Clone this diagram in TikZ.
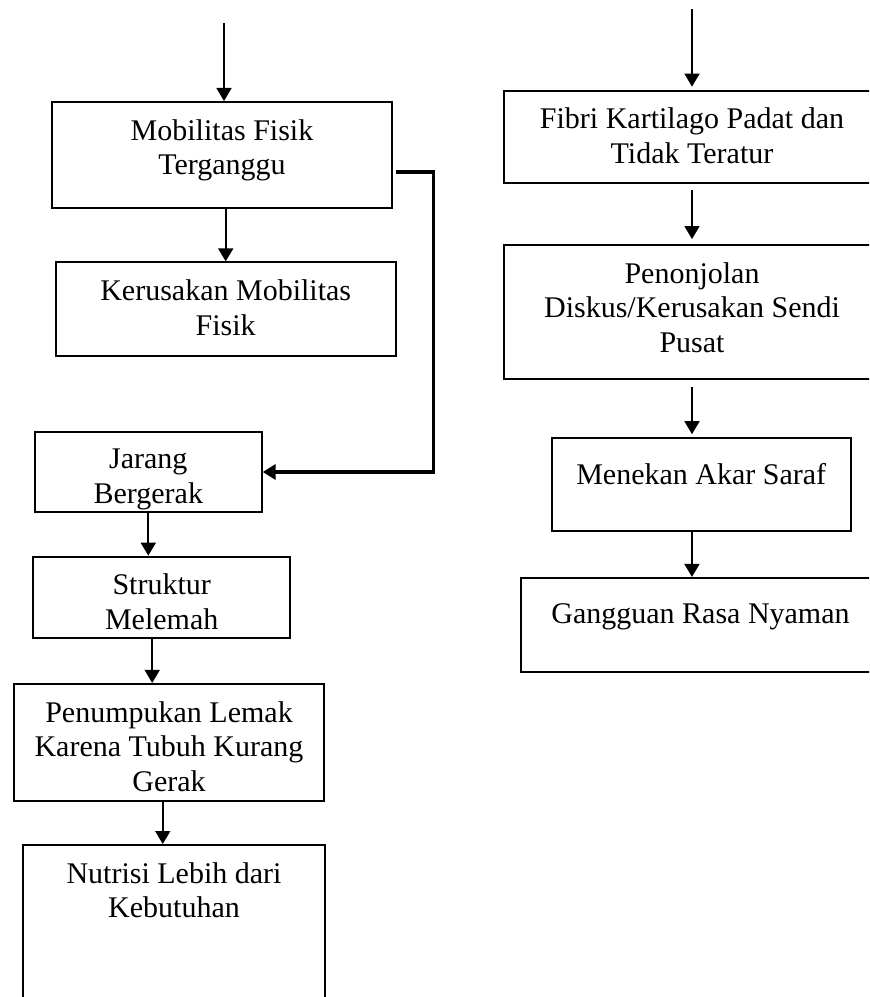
\documentclass[tikz,border=0pt]{standalone}
\usepackage{fontspec}
\setmainfont{Liberation Serif}
\usetikzlibrary{arrows.meta}

\begin{document}
\begin{tikzpicture}[x=0.4pt,y=-0.4pt,
        box/.style={draw,line width=0.8pt,rectangle,inner sep=0pt},
        txt/.style={anchor=north,align=center,inner sep=0pt,yshift=-7.2pt,font=\fontsize{12}{13.8}\selectfont},
        arr/.style={-{Triangle[length=5.2pt,width=6pt]},line width=0.7pt},
        elbow/.style={-{Triangle[length=5.2pt,width=6pt]},line width=1.3pt}]
            \useasboundingbox (0,0) rectangle (869,997);
            \clip (0,0) rectangle (869,997);
            % left column
            \coordinate (in1) at (224,23);
            \node (mob) at (222,155) [box,minimum width=136.3pt,minimum height=42.4pt,label={[txt,name=mobt]north:Mobilitas Fisik\\Terganggu}] {};
            \node (ker) at (225.7,309) [box,minimum width=136pt,minimum height=37.3pt,label={[txt,name=kert]north:Kerusakan Mobilitas\\Fisik}] {};
            \node (jar) at (148.3,472) [box,minimum width=90.7pt,minimum height=32.3pt,label={[txt,name=jart]north:Jarang\\Bergerak}] {};
            \node (str) at (161.7,597.5) [box,minimum width=102.7pt,minimum height=32.7pt,label={[txt,name=strt]north:Struktur\\Melemah}] {};
            \node (lem) at (169,742.3) [box,minimum width=124pt,minimum height=46.7pt,label={[txt,name=lemt]north:Penumpukan Lemak\\Karena Tubuh Kurang\\Gerak}] {};
            \node (nut) at (174,935) [box,minimum width=120.7pt,minimum height=72pt,label={[txt,name=nutt]north:Nutrisi Lebih dari\\Kebutuhan}] {};
            \draw[arr] (in1) -- (in1 |- mob.north);
            \draw[arr] (mob.south -| ker.north) -- (ker.north);
            \draw[elbow] ([xshift=1.2pt,yshift=-6.8pt]mob.east) -- ++(37,0) |- (jar.east);
            \draw[arr] (jar.south) -- (jar.south |- str.north);
            \draw[arr] ([xshift=-3.8pt]str.south) -- ([xshift=-3.8pt]str.south |- lem.north);
            \draw[arr] ([xshift=-2.5pt]lem.south) -- ([xshift=-2.5pt]lem.south |- nut.north);
            % right column
            \coordinate (in2) at (692,9);
            \node (fib) at (692,137) [box,minimum width=150.4pt,minimum height=37.1pt,label={[txt,name=fibt]north:Fibri Kartilago Padat dan\\Tidak Teratur}] {};
            \node (pon) at (692,312.2) [box,minimum width=150.4pt,minimum height=53.7pt,label={[txt,name=pont]north:Penonjolan\\Diskus/Kerusakan Sendi\\Pusat}] {};
            \node (men) at (701.2,484.2) [box,minimum width=119.6pt,minimum height=37.2pt,label={[txt,yshift=-3.4pt,name=ment]north:Menekan Akar Saraf}] {};
            \node (gan) at (700.5,624.8) [box,minimum width=143.6pt,minimum height=37.5pt,label={[txt,yshift=-3.4pt,name=gant]north:Gangguan Rasa Nyaman}] {};
            \draw[arr,shorten >=1.2pt] (in2) -- (in2 |- fib.north);
            \draw[arr,shorten <=2.4pt,shorten >=2pt] (fib.south) -- (pon.north);
            \draw[arr,shorten <=2.8pt,shorten >=1pt] (pon.south) -- (pon.south |- men.north);
            \draw[arr] ([xshift=-3.7pt]men.south) -- ([xshift=-3.7pt]men.south |- gan.north);
        \end{tikzpicture}
\end{document}
